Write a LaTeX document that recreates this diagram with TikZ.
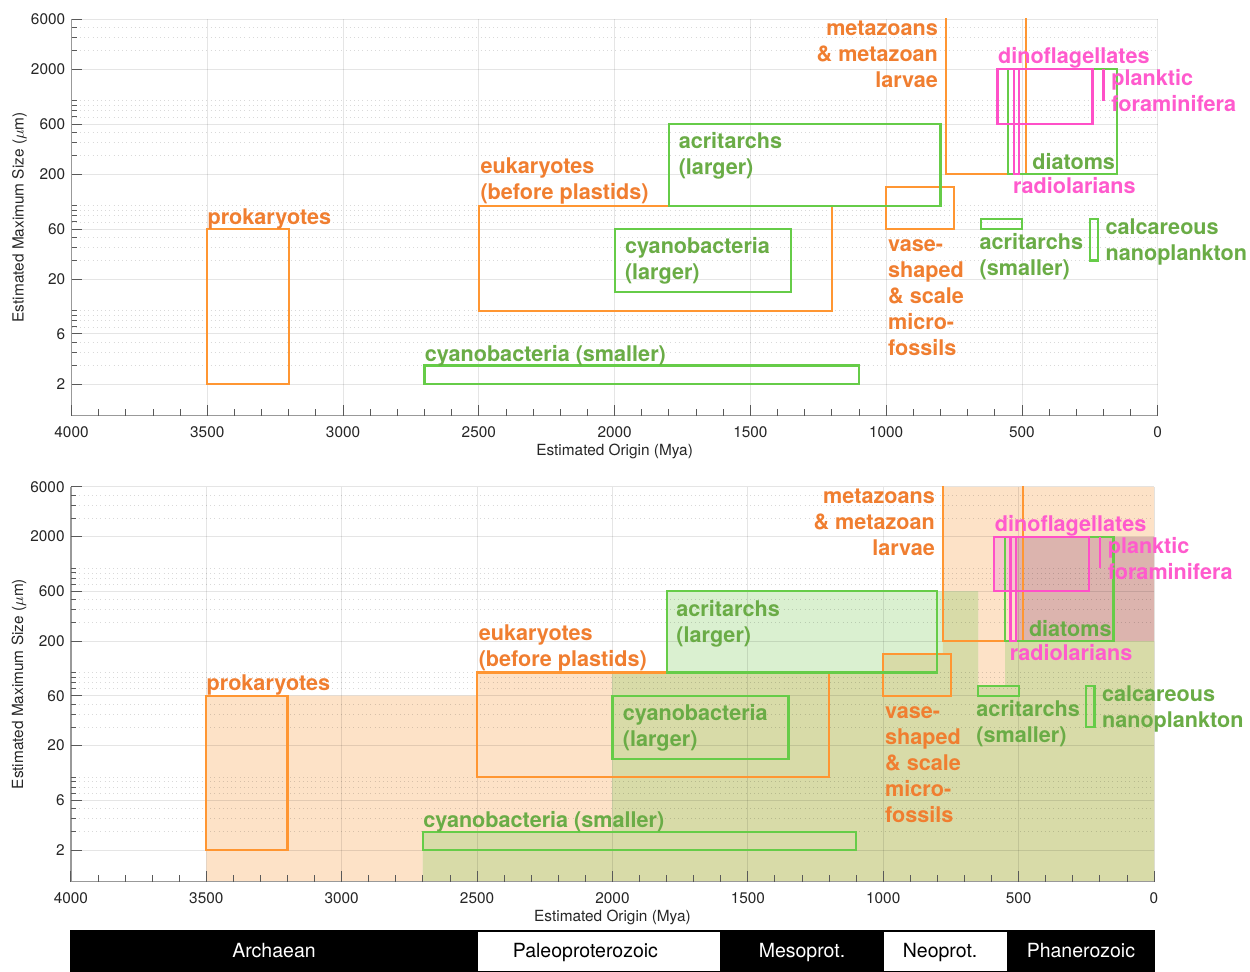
\documentclass[tikz,border=0pt]{standalone}
\usepackage{fontspec}
\setmainfont{TeX Gyre Heros}
\usepackage{xcolor}
\usepackage{tikz}
\usetikzlibrary{positioning}

\definecolor{orangetext}{RGB}{240,126,48}
\definecolor{orangeline}{RGB}{255,150,50}
\definecolor{greentext}{RGB}{106,172,70}
\definecolor{greenline}{RGB}{102,204,72}
\definecolor{pinktext}{RGB}{255,90,205}
\definecolor{pinkline}{RGB}{255,80,200}
\definecolor{peach}{RGB}{253,226,199}
\definecolor{lightgreen}{RGB}{218,240,208}
\definecolor{olivefill}{RGB}{216,219,168}
\definecolor{mauve}{RGB}{220,180,174}
\definecolor{lightpink}{RGB}{247,197,205}

\tikzset{
  lab/.style={inner sep=0pt, align=left, font=\fontsize{12.3}{14.8}\selectfont\bfseries},
  ticklab/.style={inner sep=0pt, text=black!85, font=\fontsize{8.75}{10}\selectfont},
  eontext/.style={anchor=base, inner sep=0pt, font=\fontsize{11.1}{13}\selectfont},
  obox/.style={draw=orangeline, line width=1.25pt},
  gbox/.style={draw=greenline, line width=1.25pt},
  pbox/.style={draw=pinkline, line width=1.25pt},
  majgrid/.style={draw=black, opacity=0.1, line width=0.5pt},
  mingrid/.style={draw=black, opacity=0.15, line width=0.4pt, dotted},
  axisline/.style={draw=black!40, line width=0.7pt},
  tick/.style={draw=black!65, line width=0.5pt},
  eon/.style={draw=black, line width=0.6pt}
}

\newcommand{\plotframe}[1]{%
  \foreach \v in {3,4,5,7,8,9,10,30,40,50,70,80,90,100,300,400,500,700,800,900,1000,3000,4000,5000}
    \draw[mingrid] (4000,{log10(\v)}) -- (0,{log10(\v)});
  \foreach \v in {2,6,20,60,200,600,2000,6000}
    \draw[majgrid] (4000,{log10(\v)}) -- (0,{log10(\v)});
  \foreach \x in {3500,3000,...,0}
    \draw[majgrid] (\x,0) -- (\x,{log10(6000)});
  \draw[axisline] (4000,{log10(6000)}) -- (4000,0) -- (0,0);
  %
  \foreach \x in {4000,3900,...,0}
    \draw[tick] (\x,0) -- ++(0,3.8pt);
  \foreach \x in {4000,3500,...,0}{
    \draw[tick] (\x,0) -- ++(0,6.2pt);
    \node[ticklab, anchor=north, yshift=-6.3pt] (xl\x#1) at (\x,0) {\x};
  }
  \foreach \v in {3,4,5,7,8,9,10,30,40,50,70,80,90,100,300,400,500,700,800,900,1000,3000,4000,5000}
    \draw[tick] (4000,{log10(\v)}) -- ++(3pt,0);
  \foreach \v in {2,6,20,60,200,600,2000,6000}{
    \draw[tick] (4000,{log10(\v)}) -- ++(6.2pt,0);
    \node[ticklab, anchor=east, xshift=-3.4pt] (yl\v#1) at (4000,{log10(\v)}) {\v};
  }
  \node[ticklab, anchor=north, yshift=-16.2pt] (xtitle#1) at (2000,0) {Estimated Origin (Mya)};
  \node[ticklab, xshift=-29.6pt, rotate=90] (ytitle#1) at (4000,1.89) {Estimated Maximum Size ($\mu$m)};
}

\newcommand{\plotboxes}[1]{%
  \begin{scope}
    \clip (4000,0) rectangle (0,{log10(6000)});
    \draw[obox] (3500,{log10(2)}) rectangle (3200,{log10(60)});
    \draw[obox] (2500,1) rectangle (1200,2);
    \draw[obox] (1000,{log10(60)}) rectangle (750,{log10(150)});
    \draw[obox] (780,{log10(200)}) rectangle (485,4.2);
    \draw[gbox] (2700,{log10(2)}) rectangle (1100,{log10(3)});
    \draw[gbox] (2000,{log10(15)}) rectangle (1350,{log10(60)});
    \draw[gbox] (1800,2) rectangle (800,{log10(600)});
    \draw[gbox] (650,{log10(60)}) rectangle (500,{log10(75)});
    \draw[gbox] (250,{log10(30)}) rectangle (220,{log10(75)});
    \draw[gbox] (550,{log10(200)}) rectangle (150,{log10(2000)});
    \draw[pbox] (590,{log10(600)}) rectangle (240,{log10(2000)});
    \draw[pbox] (530,{log10(200)}) rectangle (510,{log10(2000)});
    \draw[pbox] (200,3) -- (200,{log10(2000)});
  \end{scope}
  %
  \node[lab, text=orangetext, anchor=north west] (prok#1) at (3500,1.978) {prokaryotes};
  \node[lab, text=orangetext, anchor=north west] (euk#1) at (2495,2.457) {eukaryotes\\(before plastids)};
  \node[lab, text=orangetext, anchor=north west] (vase#1) at (994,1.675) {vase-\\shaped\\\& scale\\micro-\\fossils};
  \node[lab, text=orangetext, anchor=north east, align=right] (meta#1) at (808,3.763) {metazoans\\\& metazoan\\larvae};
  \node[lab, text=greentext, anchor=north west] (cyanoL#1) at (1963,1.701) {cyanobacteria\\(larger)};
  \node[lab, text=greentext, anchor=north west] (cyanoS#1) at (2700,0.670) {cyanobacteria (smaller)};
  \node[lab, text=greentext, anchor=north west] (acriL#1) at (1765,2.697) {acritarchs\\(larger)};
  \node[lab, text=greentext, anchor=north west] (acriS#1) at (657,1.735) {acritarchs\\(smaller)};
  \node[lab, text=greentext, anchor=north west] (diatoms#1) at (463,2.50) {diatoms};
  \node[lab, text=greentext, anchor=north west] (calc#1) at (193,1.878) {calcareous\\nanoplankton};
  \node[lab, text=pinktext, anchor=north west] (dino#1) at (589,3.507) {dinoflagellates};
  \node[lab, text=pinktext, anchor=north west] (foram#1) at (172,3.30) {planktic\\foraminifera};
  \node[lab, text=pinktext, anchor=north west] (radio#1) at (534,2.275) {radiolarians};
}

\begin{document}
\begin{tikzpicture}[x=0.02cm, y=-0.02cm]
\useasboundingbox (0,0) rectangle (1250,971);
%
\begin{scope}[shift={(1157.7,415.6)}, x=-0.0054285cm, y=2.1cm]
  \plotframe{t}
  \plotboxes{t}
\end{scope}
%
\begin{scope}[shift={(1154,881.5)}, x=-0.00541cm, y=2.09cm]
  \fill[peach] (3500,0) -- (3500,{log10(60)}) -- (2500,{log10(60)}) -- (2500,2) -- (1000,2) -- (1000,{log10(150)})
    -- (780,{log10(150)}) -- (780,{log10(6000)}) -- (0,{log10(6000)}) -- (0,0) -- cycle;
  \fill[lightgreen] (2700,0) -- (2700,{log10(3)}) -- (2000,{log10(3)}) -- (2000,2) -- (1800,2) -- (1800,{log10(600)})
    -- (650,{log10(600)}) -- (650,{log10(75)}) -- (550,{log10(75)}) -- (550,{log10(200)}) -- (0,{log10(200)}) -- (0,0) -- cycle;
  \fill[olivefill] (2700,0) -- (2700,{log10(3)}) -- (2000,{log10(3)}) -- (2000,2) -- (1000,2) -- (1000,{log10(150)})
    -- (780,{log10(150)}) -- (780,{log10(600)}) -- (650,{log10(600)}) -- (650,{log10(75)}) -- (550,{log10(75)})
    -- (550,{log10(200)}) -- (0,{log10(200)}) -- (0,0) -- cycle;
  \fill[mauve] (510,{log10(200)}) rectangle (0,{log10(2000)});
  \fill[lightpink] (590,{log10(600)}) rectangle (510,{log10(2000)});
  \plotframe{b}
  \plotboxes{b}
\end{scope}
%
\begin{scope}[shift={(1154,0)}, x=-0.00541cm]
  \draw[eon, fill=black] (4000,931) rectangle (2500,972);
  \draw[eon, fill=white] (2500,931) rectangle (1600,972);
  \draw[eon, fill=black] (1600,931) rectangle (1000,972);
  \draw[eon, fill=white] (1000,931) rectangle (541,972);
  \draw[eon, fill=black] (541,931) rectangle (0,972);
  \node[eontext, text=white] (archaean) at (3250,957) {Archaean};
  \node[eontext] (paleo) at (2100,957) {Paleoproterozoic};
  \node[eontext, text=white] (meso) at (1300,957) {Mesoprot.};
  \node[eontext] (neo) at (790,957) {Neoprot.};
  \node[eontext, text=white] (phanero) at (270,957) {Phanerozoic};
\end{scope}
\end{tikzpicture}
\end{document}
